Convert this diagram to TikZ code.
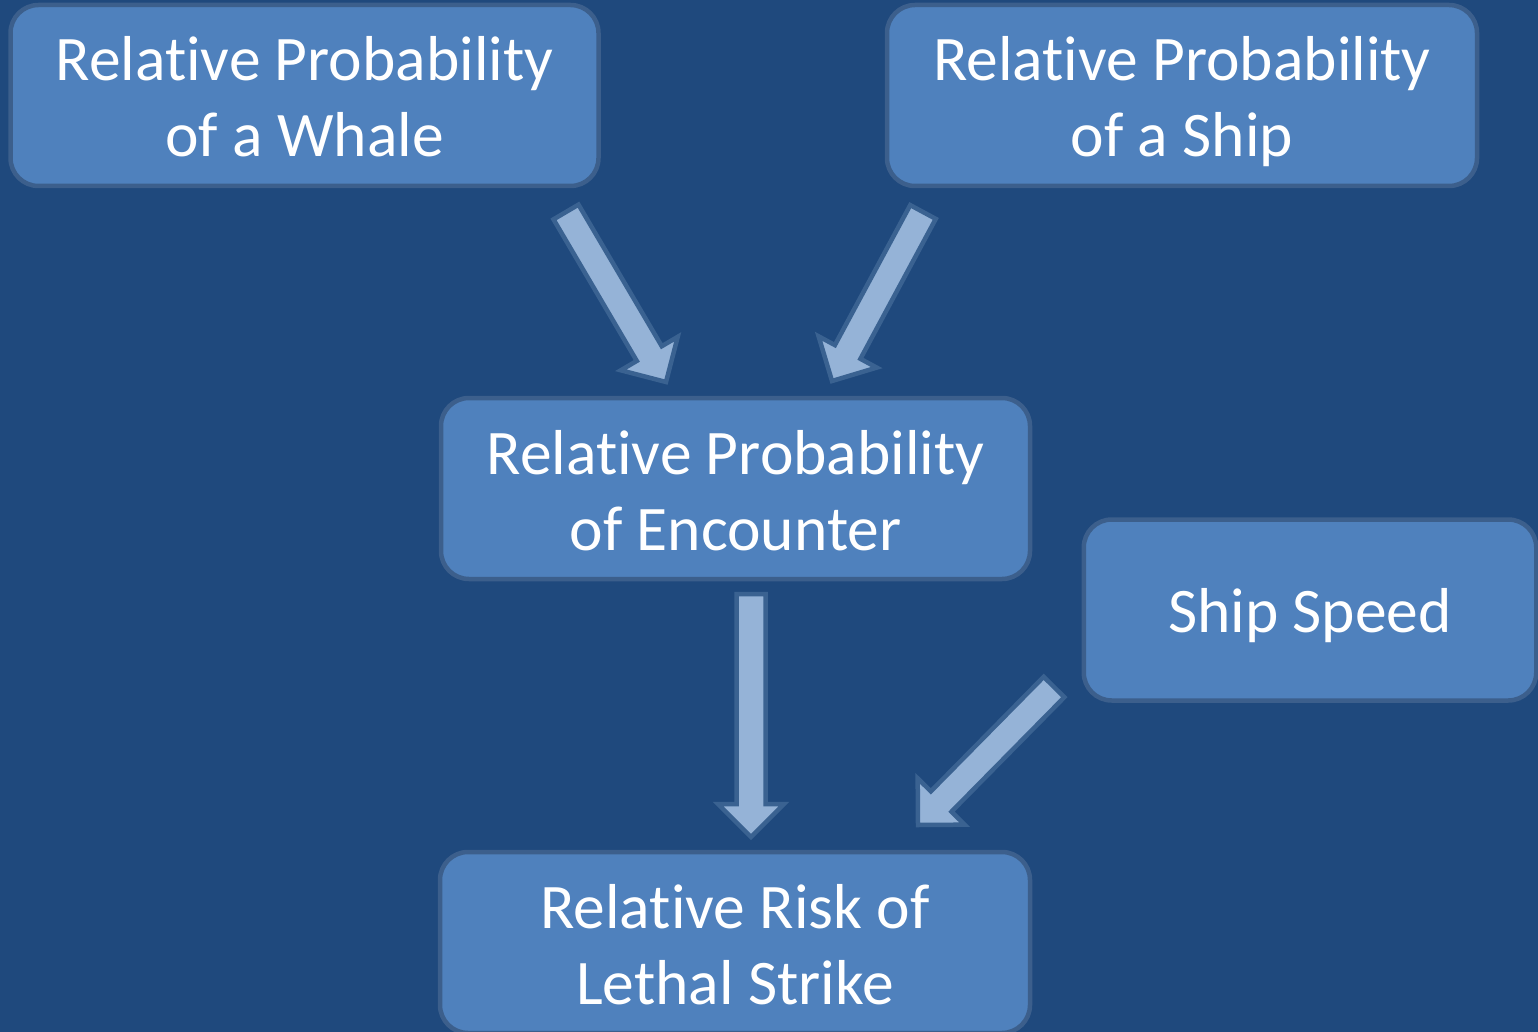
\documentclass[tikz,border=0pt]{standalone}
\usepackage{fontspec}
\setmainfont{Carlito}[Ligatures={NoCommon}]
\usetikzlibrary{calc}
\definecolor{bg}{HTML}{1F497D}
\definecolor{boxfill}{HTML}{4F81BD}
\definecolor{boxedge}{HTML}{3C5F8C}
\definecolor{arrfill}{HTML}{95B3D7}
\definecolor{arredge}{HTML}{3A6291}
\tikzset{
  box/.style={draw=boxedge, fill=boxfill, line width=4.5pt, rounded corners=28pt, inner sep=0pt},
  txt/.style={text=white, font=\fontsize{63.5}{76}\selectfont, anchor=base, inner sep=0pt},
  blockarr/.style={draw=arredge, fill=arrfill, line width=4.5pt, line join=miter},
}
\newcommand\blockarrow[2]{%
  \coordinate (hb) at ($(#2)!33pt!(#1)$);
  \path[blockarr] ($(#1)!14.5pt!90:(#2)$) -- ($(hb)!14.5pt!90:(#2)$) -- ($(hb)!33pt!90:(#2)$)
    -- (#2) -- ($(hb)!33pt!-90:(#2)$) -- ($(hb)!14.5pt!-90:(#2)$) -- ($(#1)!14.5pt!-90:(#2)$) -- cycle;
}
\begin{document}
\begin{tikzpicture}[x=1pt, y=-1pt]
\useasboundingbox (0,0) rectangle (1538,1032);
\fill[bg] (0,0) rectangle (1538,1032);
\begin{scope}
\clip (0,0) rectangle (1538,1032);
% boxes
\node[box, minimum width=588pt, minimum height=181pt] (whale) at (304.5,95.5) {};
\node[box, minimum width=590pt, minimum height=181pt] (ship) at (1182,95.5) {};
\node[box, minimum width=589pt, minimum height=181pt] (enc) at (735.5,488.5) {};
\node[box, minimum width=452.5pt, minimum height=181pt] (speed) at (1310,610) {};
\node[box, minimum width=590pt, minimum height=181pt] (lethal) at (735,942.5) {};
\end{scope}
% texts
\node[txt] (whale1) at ($(whale.center)+(0,-14.5)$) {Relative Probability};
\node[txt] (whale2) at ($(whale.center)+(0,61.5)$) {of a Whale};
\node[txt] (ship1) at ($(ship.center)+(0,-14.5)$) {Relative Probability};
\node[txt] (ship2) at ($(ship.center)+(0,61.5)$) {of a Ship};
\node[txt] (enc1) at ($(enc.center)+(0,-14.5)$) {Relative Probability};
\node[txt] (enc2) at ($(enc.center)+(0,61.5)$) {of Encounter};
\node[txt] (speed1) at ($(speed.center)+(0,22)$) {Ship Speed};
\node[txt] (lethal1) at ($(lethal.center)+(0,-14.5)$) {Relative Risk of};
\node[txt] (lethal2) at ($(lethal.center)+(0,61.5)$) {Lethal Strike};
% arrows
\coordinate (a1s) at (566,212); \coordinate (a1e) at (666,382);
\coordinate (a2s) at (923,212); \coordinate (a2e) at (832,381);
\coordinate (a3s) at (751,594); \coordinate (a3e) at (751,837);
\coordinate (a4s) at (1054,687); \coordinate (a4e) at (918,825);
\blockarrow{a1s}{a1e}
\blockarrow{a2s}{a2e}
\blockarrow{a3s}{a3e}
\blockarrow{a4s}{a4e}
\end{tikzpicture}
\end{document}
